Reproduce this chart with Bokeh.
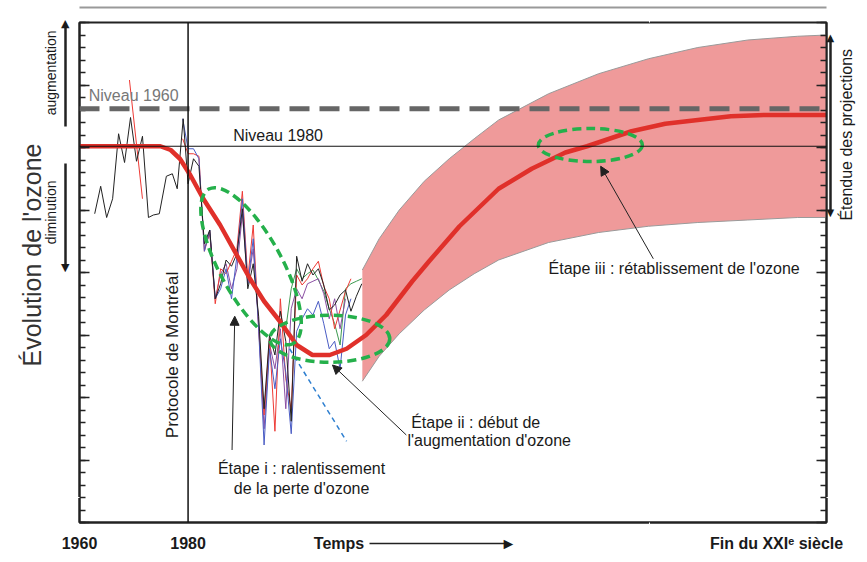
from math import pi
from bokeh.plotting import figure
from bokeh.models import Range1d, LinearAxis, FixedTicker, Span, Label, Arrow, NormalHead
from bokeh.embed import file_html
from bokeh.resources import INLINE

# ---------------- data (years / arbitrary ozone units) ----------------
black_x = [1962.8, 1963.9, 1965.0, 1966.1, 1967.2, 1968.3, 1969.4, 1970.5, 1971.6,
           1972.7, 1973.6, 1974.7, 1976.0, 1977.1, 1978.0, 1979.1] + list(range(1980, 2013))
black_y = [24.7, 26.9, 24.4, 25.9, 31.1, 28.8, 32.4, 28.9, 30.9, 24.4, 24.6, 24.7,
           27.7, 27.9, 26.7, 32.3,
           27.1, 29.1, 28.5, 22.3, 23.4, 17.9, 19.1, 21.0, 20.5, 21.5,
           25.1, 18.7, 20.7, 16.5, 9.1, 15.0, 13.4, 16.9, 14.5, 8.1,
           21.3, 19.3, 20.7, 19.8, 20.3, 19.0, 17.0, 17.4, 18.2, 18.6,
           16.9, 18.1, 19.1]
red_seg_x = [1969.2, 1971.6]
red_seg_y = [35.4, 25.9]

blue_x = list(range(1979, 2011))
blue_y = [32.3, 29.9, 29.9, 29.1, 21.7, 23.4, 17.9, 18.7, 20.3, 17.9, 21.3, 25.9,
          19.1, 22.7, 15.5, 6.2, 13.9, 10.7, 14.7, 12.0, 7.1, 15.3, 16.3, 17.1,
          16.6, 17.7, 15.9, 13.9, 14.5, 12.3, 16.6, 17.9]
red_x = list(range(1979, 2011))
red_y = [30.7, 29.5, 29.5, 29.3, 21.7, 23.3, 17.5, 20.3, 19.9, 20.9, 21.9, 26.5,
         19.5, 23.8, 15.5, 8.6, 14.7, 7.3, 17.9, 11.5, 9.0, 19.8, 19.0, 19.5,
         20.3, 20.9, 18.9, 17.9, 15.5, 17.0, 18.5, 19.5]
purple_x = list(range(1983, 2010))
purple_y = [21.9, 23.1, 17.9, 19.9, 20.7, 18.7, 20.3, 24.7, 19.1, 21.9,
            15.9, 7.5, 14.3, 12.3, 15.5, 9.1, 17.1, 18.7, 17.9, 19.1,
            19.3, 19.5, 18.3, 16.3, 17.9, 15.5, 17.9]
green_x = list(range(1998, 2013))
green_y = [15.5, 18.7, 20.3, 19.5, 19.9, 20.2, 19.4, 18.5, 17.1, 15.9, 14.2,
           18.7, 19.1, 19.3, 19.5]

trend_x = [1998.7, 2009.2]
trend_y = [13.9, 6.5]

mean_x = [1960, 1974.9, 1976.8, 1978.5, 1980.4, 1982.8, 1985.9, 1991.4, 1994.0, 1996.9,
          2000.0, 2002.9, 2006.1, 2009.2, 2012.8, 2016.5, 2021.3, 2024.4, 2030.0, 2037.2,
          2043.3, 2049.5, 2053.5, 2061.7, 2067.9, 2073.9, 2080.0, 2086.2, 2097.6]
mean_y = [30.1, 30.1, 29.8, 29.1, 27.8, 25.9, 23.8, 19.5, 17.7, 16.1,
          14.2, 13.4, 13.4, 13.9, 15.0, 16.6, 19.3, 20.9, 23.7, 26.7,
          28.3, 29.6, 30.1, 31.3, 31.9, 32.2, 32.5, 32.6, 32.6]

band_x = [2012.1, 2015.2, 2018.9, 2023.5, 2028.1, 2032.7, 2037.2, 2046.4, 2055.6,
          2064.8, 2073.9, 2083.1, 2092.3, 2097.6]
band_upper = [20.2, 22.7, 25.0, 27.3, 29.1, 30.7, 32.2, 34.3, 35.9, 37.1, 38.0, 38.6, 38.9, 39.0]
band_lower = [11.3, 13.3, 15.1, 17.0, 18.6, 19.9, 21.0, 22.4, 23.2, 23.7, 24.0, 24.2, 24.4, 24.4]

level_1980 = 30.1
level_1960 = 33.1
protocol_year = 1980

# stage ellipses (centre in data, size in screen px, angle rad)
ell_x = [1991.6, 2006.1, 2054.1]
ell_y = [20.5, 14.7, 30.2]
ell_w = [176, 120, 104]
ell_h = [62, 47, 33]
ell_a = [-1.07, 0.0, 0.0]

x_ticks = [1960, 1980, 2007.8, 2039.0, 2088.4]
x_labels = {2007.8: "Temps", 2039.0: "►", 2088.4: "Fin du XXIᵉ siècle"}
y_major = list(range(0, 41, 5))
y_minor = list(range(0, 41))
side_words = {39.36: "augmentation", 27.36: "diminution"}   # tick = upper end of the text
side_title = {30.32: "Évolution de l'ozone"}
right_title = {31.9: "Étendue des projections"}
left_heads = {39.9: "▲", 20.4: "▼"}
right_heads = {38.78: "▲", 24.82: "▼"}
up_span = (31.7, 39.9)
down_span = (20.4, 28.7)
proj_span = (24.82, 38.78)
time_span = (2013.4, 2039.0)

FONT = "Liberation Sans"
TXT = "#1a1a1a"
GREEN = "#25b04b"

p = figure(width=866, height=558, x_range=Range1d(1960, 2097.6), y_range=Range1d(0, 40),
           output_backend="svg", toolbar_location=None,
           min_border_left=78, min_border_right=38, min_border_top=22, min_border_bottom=36)
p.grid.visible = False
p.outline_line_color = "#222"
p.outline_line_width = 2
p.background_fill_color = "white"
p.border_fill_color = "white"


def bare(ticks=(), **kw):
    ax = LinearAxis(ticker=FixedTicker(ticks=list(ticks), minor_ticks=[]),
                    major_tick_in=0, major_tick_out=0, minor_tick_in=0, minor_tick_out=0,
                    major_label_standoff=0, axis_line_color=None,
                    major_label_text_font=FONT, major_label_text_color=TXT)
    for k, v in kw.items():
        setattr(ax, k, v)
    return ax


def spacer(tick, length, ax=None):
    ax = ax or LinearAxis()
    ax.ticker = FixedTicker(ticks=[tick], minor_ticks=[])
    ax.major_tick_in = 0
    ax.major_tick_out = length
    ax.minor_tick_in = 0
    ax.minor_tick_out = 0
    ax.major_tick_line_color = "white"
    ax.major_label_text_color = None
    ax.major_label_standoff = 0
    return ax


def tick_axis(ax):
    ax.ticker = FixedTicker(ticks=y_major, minor_ticks=y_minor)
    ax.major_tick_in = 10
    ax.major_tick_out = 0
    ax.minor_tick_in = 6
    ax.minor_tick_out = 0
    ax.major_tick_line_width = 1.5
    ax.minor_tick_line_width = 1.5
    ax.major_tick_line_color = "#222"
    ax.minor_tick_line_color = "#222"
    ax.axis_line_width = 2
    ax.axis_line_color = "#222"
    ax.major_label_text_color = None
    ax.major_label_standoff = 0


# left side (inner -> outer)
tick_axis(p.yaxis[0])
p.add_layout(spacer(2, 14, LinearAxis(axis_line_color=None)), "left")
p.add_layout(bare(bounds=up_span, axis_line_color="#222", axis_line_width=2.5), "left")
p.add_layout(bare(bounds=down_span, axis_line_color="#222", axis_line_width=2.5), "left")
p.add_layout(bare(list(left_heads), major_label_overrides=left_heads,
                  major_label_text_font="DejaVu Sans", major_label_text_font_size="11px",
                  major_label_standoff=-4), "left")
p.add_layout(bare(list(side_words), major_label_overrides=side_words,
                  major_label_orientation=pi / 2, major_label_text_font_size="14px",
                  major_label_standoff=8), "left")
p.add_layout(bare(list(side_title), major_label_overrides=side_title,
                  major_label_orientation=pi / 2, major_label_text_font_size="25px",
                  major_label_text_color="#333", major_label_standoff=0), "left")

# right side
right = LinearAxis()
tick_axis(right)
p.add_layout(right, "right")
p.add_layout(spacer(2, 4, LinearAxis(axis_line_color=None)), "right")
p.add_layout(bare(bounds=proj_span, axis_line_color="#222", axis_line_width=2.5), "right")
p.add_layout(bare(list(right_heads), major_label_overrides=right_heads,
                  major_label_text_font="DejaVu Sans", major_label_text_font_size="10px",
                  major_label_standoff=-4), "right")
p.add_layout(bare(list(right_title), major_label_overrides=right_title,
                  major_label_orientation=pi / 2, major_label_text_font_size="16px",
                  major_label_standoff=9), "right")

# bottom: frame line + spacer, time arrow, labels
spacer(2065, 21, p.xaxis[0])
p.xaxis[0].axis_line_width = 2
p.xaxis[0].axis_line_color = "#222"
p.add_layout(bare(bounds=time_span, axis_line_color="#222", axis_line_width=1.5), "below")
p.add_layout(bare(x_ticks, major_label_overrides=x_labels, major_label_text_font_size="16px",
                  major_label_text_font_style="bold", major_label_standoff=-9), "below")

# top: spacer + grey page rule
p.add_layout(spacer(2065, 15, LinearAxis(axis_line_color=None)), "above")
p.add_layout(bare(axis_line_color="#999", axis_line_width=2), "above")

# projection band
p.varea(x=band_x, y1=band_lower, y2=band_upper, fill_color="#ef9a9a")
p.line(band_x, band_upper, line_color="#9a9a9a", line_width=1)
p.line(band_x, band_lower, line_color="#9a9a9a", line_width=1)

# observations
p.line(green_x, green_y, line_color="#3d9a50", line_width=1)
p.line(purple_x, purple_y, line_color="#8b4fa3", line_width=1)
p.line(red_x, red_y, line_color="#ee3a35", line_width=1)
p.line(red_seg_x, red_seg_y, line_color="#ee3a35", line_width=1)
p.line(blue_x, blue_y, line_color="#4a5cc4", line_width=1)
p.line(black_x, black_y, line_color="#222222", line_width=1)
p.line(trend_x, trend_y, line_color="#2e7fd0", line_width=1.5, line_dash="5 4")

# model mean
p.line(mean_x, mean_y, line_color="#e0302a", line_width=4.5)

# ellipses
p.ellipse(x=ell_x, y=ell_y, width=ell_w, height=ell_h, angle=ell_a,
          width_units="screen", height_units="screen",
          fill_color=None, line_color=GREEN, line_width=3.5, line_dash="9 5")

# reference levels
p.add_layout(Span(location=level_1980, dimension="width", line_color="#111", line_width=1.2))
p.add_layout(Span(location=level_1960, dimension="width", line_color="#666", line_width=5,
                  line_dash="20 10"))
p.add_layout(Span(location=protocol_year, dimension="height", line_color="#111", line_width=1.5))


def lab(x, y, text, size, align="left", baseline="middle", angle=0, color=TXT, style="normal"):
    p.add_layout(Label(x=x, y=y, text=text, text_font=FONT, text_font_size=size,
                       text_align=align, text_baseline=baseline, angle=angle,
                       text_color=color, text_font_style=style))


def arrow(x0, y0, x1, y1, w=1, size=9, color="#222"):
    head = NormalHead(size=size, fill_color=color, line_color=color)
    p.add_layout(Arrow(end=head, x_start=x0, y_start=y0, x_end=x1, y_end=y1,
                       line_color=color, line_width=w))


lab(1961.7, 34.2, "Niveau 1960", "16px", color="#777")
lab(1988.3, 31.0, "Niveau 1980", "16px")
lab(1977.2, 13.4, "Protocole de Montréal", "17px", align="center", angle=pi / 2)
lab(2046.4, 20.3, "Étape iii : rétablissement de l'ozone", "16px")
lab(2021.1, 8.0, "Étape ii : début de", "16px")
lab(2020.4, 6.6, "l'augmentation d'ozone", "16px")
lab(2000.9, 4.3, "Étape i : ralentissement", "16px", align="center")
lab(2000.9, 2.7, "de la perte d'ozone", "16px", align="center")

arrow(1988.1, 5.8, 1988.6, 16.5)
arrow(2020.2, 7.0, 2006.6, 12.6)
arrow(2065.7, 21.1, 2056.0, 28.5)

open("out.html", "w").write(file_html(p, INLINE))
